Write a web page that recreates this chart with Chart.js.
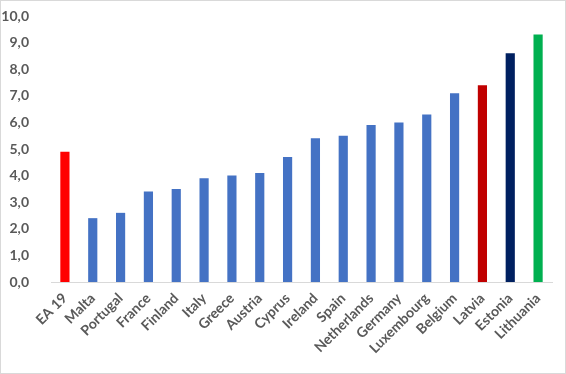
<!DOCTYPE html>
<html>
<head>
<meta charset="utf-8">
<script src="https://cdn.jsdelivr.net/npm/chart.js@4/dist/chart.umd.min.js"></script>
<style>
    html, body { margin: 0; padding: 0; background: #fff; }
    #box { width: 564px; height: 372px; border: 1px solid #d9d9d9; position: relative; }
</style>
</head>
<body>
<div id="box"><canvas id="chart"></canvas></div>
<script>
var countries = ["EA 19", "Malta", "Portugal", "France", "Finland", "Italy", "Greece", "Austria", "Cyprus",
    "Ireland", "Spain", "Netherlands", "Germany", "Luxembourg", "Belgium", "Latvia", "Estonia", "Lithuania"];
var values = [4.9, 2.4, 2.6, 3.4, 3.5, 3.9, 4.0, 4.1, 4.7, 5.4, 5.5, 5.9, 6.0, 6.3, 7.1, 7.4, 8.6, 9.3];
var barColors = ["#ff0000", "#4472c4", "#4472c4", "#4472c4", "#4472c4", "#4472c4", "#4472c4", "#4472c4", "#4472c4",
    "#4472c4", "#4472c4", "#4472c4", "#4472c4", "#4472c4", "#4472c4", "#c00000", "#002060", "#00b050"];

var ctx = document.getElementById("chart");

var chart = new Chart(ctx, {
    type: "bar",
    data: {
        labels: countries,
        datasets: [{
            data: values,
            backgroundColor: barColors,
            barPercentage: 0.33,
            categoryPercentage: 1
        }]
    },
    options: {
        responsive: true,
        maintainAspectRatio: false,
        animation: false,
        layout: {
            padding: { left: 0, right: 13, top: 0, bottom: 0 }
        },
        plugins: {
            legend: { display: false },
            tooltip: { enabled: false }
        },
        scales: {
            x: {
                grid: { display: false },
                border: { display: true, color: "#d9d9d9" },
                afterFit: function(axis) { axis.height = 91; },
                ticks: {
                    color: "#595959",
                    font: { family: "Lato", size: 14, weight: "bold" },
                    minRotation: 45,
                    maxRotation: 45,
                    autoSkip: false,
                    padding: 0
                }
            },
            y: {
                min: 0,
                max: 10,
                grid: { display: false },
                border: { display: false },
                afterFit: function(axis) {
                    axis.width = 50;
                    axis.paddingTop = 15;
                    axis.paddingBottom = 0;
                },
                ticks: {
                    stepSize: 1,
                    color: "#595959",
                    font: { family: "Lato", size: 14, weight: "bold" },
                    padding: 14,
                    callback: function(v) {
                        return v.toFixed(1).replace(".", ",");
                    }
                }
            }
        }
    }
});
</script>
</body>
</html>
